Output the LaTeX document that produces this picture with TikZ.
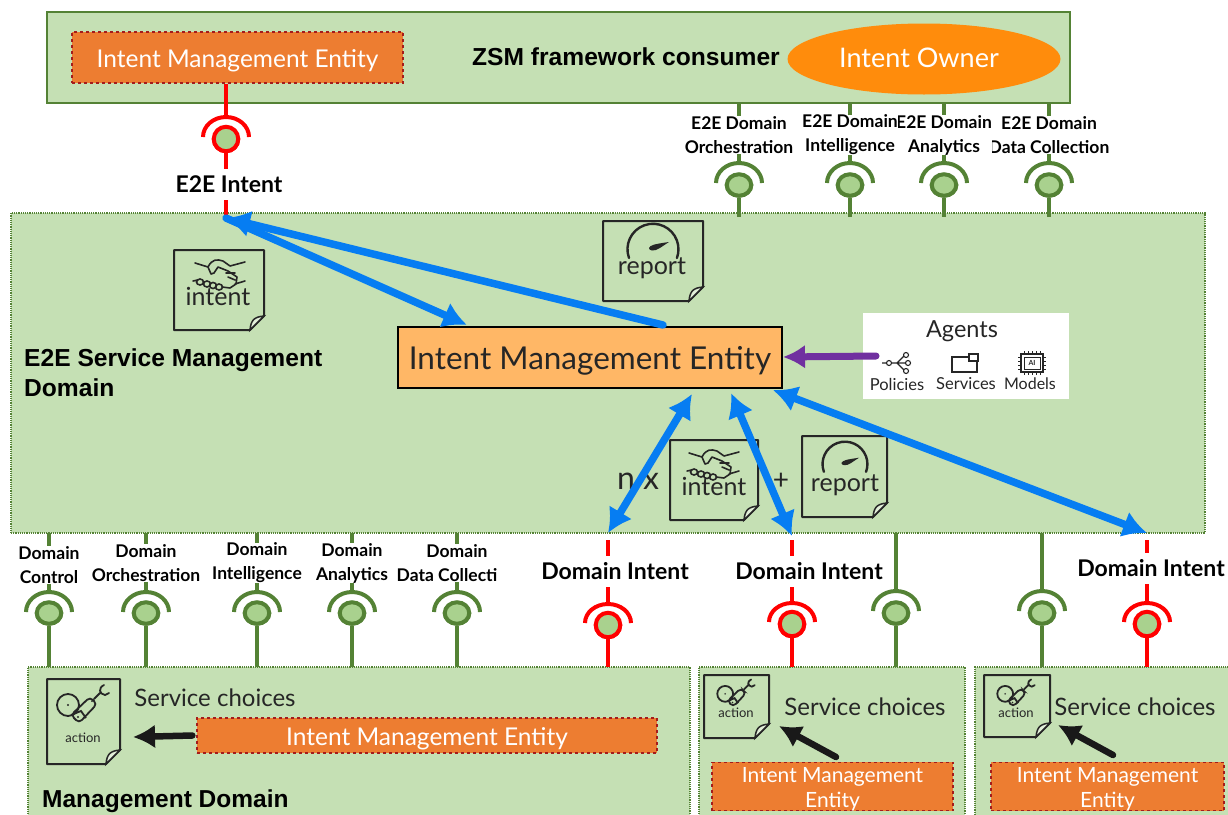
\documentclass[tikz,border=0pt]{standalone}
\usepackage{fontspec}
\setmainfont{Lato}
\newfontfamily\arialfont{Liberation Sans}
\usetikzlibrary{arrows.meta,shapes.geometric}
\definecolor{domaingreen}{HTML}{C5E0B4}
\definecolor{wiregreen}{HTML}{548235}
\definecolor{ballgreen}{HTML}{A9D18E}
\definecolor{imeorange}{HTML}{ED7D31}
\definecolor{imedash}{HTML}{A51C1C}
\definecolor{ownerorange}{HTML}{FF8C0C}
\definecolor{imelight}{HTML}{FFB766}
\definecolor{flowblue}{HTML}{067DF2}
\definecolor{agentpurple}{HTML}{7030A0}
\definecolor{inkgrey}{HTML}{262626}
\newcommand{\fsz}[1]{\fontsize{#1}{#1}\selectfont}
\newcommand{\docnote}[4]{%
	\draw[line width=2pt,draw=inkgrey,line join=round] (#1,#2) -- (#3,#2) -- (#3,#4-14) -- (#3-14,#4) -- (#1,#4) -- cycle;
	\draw[line width=1.5pt,draw=inkgrey,fill=domaingreen!50!white] (#3-14,#4) .. controls (#3-13,#4-10) and (#3-10,#4-13) .. (#3,#4-14) -- cycle;
}
\tikzset{
	outerbox/.style={draw=wiregreen,line width=1.5pt,fill=domaingreen},
	domainbox/.style={draw=wiregreen,densely dotted,line width=1.2pt,fill=domaingreen},
	imebox/.style={draw=imedash,dashed,line width=1.3pt,fill=imeorange,text=white,align=center,inner sep=0pt},
	greenwire/.style={draw=wiregreen,line width=4pt},
	redwire/.style={draw=red,line width=4pt},
	greenball/.style={ellipse,draw=wiregreen,line width=4pt,fill=ballgreen,minimum width=24.5pt,minimum height=21.5pt,inner sep=0pt},
	redball/.style={ellipse,draw=red,line width=4pt,fill=ballgreen,minimum width=24.5pt,minimum height=24.5pt,inner sep=0pt},
	wirelabel/.style={fill=white,inner sep=0pt,align=center,font=\fontsize{17.5}{24}\selectfont\bfseries},
	intentlabel/.style={inner sep=1pt,fill=white,minimum height=31pt,font=\fsz{23}\bfseries},
	blueflow/.style={draw=flowblue,line width=7.5pt,line cap=round,-{Latex[length=24pt,width=27pt]}},
	bluetwoway/.style={draw=flowblue,line width=7.5pt,{Latex[length=24pt,width=27pt]}-{Latex[length=24pt,width=27pt]}},
	blackflow/.style={draw=black!90,line width=6.5pt,line cap=round,-{Latex[length=22pt,width=24pt]}},
	plaintext/.style={inner sep=0pt,text=inkgrey},
	shakeicon/.pic={
		\draw[line width=1.6pt,inkgrey,line cap=round,line join=round]
			(-25,-12) -- (-12,-8) .. controls (-8,-16) and (-3,-16) .. (3,-14) -- (10,-9) -- (25,-13)
			(-12,-8) -- (-9,-1) -- (-6,-2) -- (-2,-8) -- (8,-4) -- (17,2) -- (16,9) -- (10,13) -- (2,12)
			(-27,6) -- (-22,5) (25,6) -- (15,9)
			(6,-2) -- (15,-2) (8,2) -- (15,5);
		\foreach \fx/\fy in {-20/7,-13/9,-7/10.5,-1/12}
			\draw[line width=1.6pt,inkgrey] (\fx,\fy) ellipse (3.5 and 3);
	},
	gaugeicon/.pic={
		\draw[line width=2.4pt,inkgrey,line cap=round] (-24,10) arc (160:380:25.5);
		\fill[inkgrey] (-4,0) .. controls (-3,-3) and (2,-4) .. (16,-6) .. controls (8,-1) and (4,3) .. (-1,2.5) .. controls (-3,2.5) and (-4,1) .. (-4,0) -- cycle;
	},
	armicon/.pic={
		\draw[line width=1.8pt,inkgrey] (-15,-3) circle (11);
		\fill[inkgrey] (-15,-3) circle (1.2);
		\draw[line width=1.8pt,inkgrey,rounded corners=4pt] (-12,7) -- (7,-11) -- (14,-4) -- (-4,15) -- cycle;
		\draw[line width=1.8pt,inkgrey] (-12,7) -- (-2,3) -- (3,10);
		\fill[inkgrey] (-5,9) circle (1.2) (9,-7) circle (1);
		\draw[line width=1.8pt,inkgrey,line cap=round] (11,-9) -- (17,-15) (21,-23) .. controls (15,-20) and (16,-14) .. (22,-13) -- (26,-15);
	}
}
\begin{document}
\begin{tikzpicture}[x=1pt,y=-1pt]
	\useasboundingbox (0,0) rectangle (1228,814);
	\clip (0,0) rectangle (1228,814);

	\node[outerbox,minimum width=1023pt,minimum height=91pt,inner sep=0pt] (consumer) at (558.5,57.5) {};
	\node[domainbox,minimum width=1194pt,minimum height=320pt,inner sep=0pt] (e2edomain) at (608,373) {};
	\node[domainbox,minimum width=662pt,minimum height=180pt,inner sep=0pt] (leftdomain) at (359,757) {};
	\node[domainbox,minimum width=266pt,minimum height=180pt,inner sep=0pt] (middomain) at (832,757) {};
	\node[domainbox,minimum width=270pt,minimum height=180pt,inner sep=0pt] (rightdomain) at (1110,757) {};

	\node[imebox,minimum width=331pt,minimum height=51pt,font=\fsz{24.5},text height=20pt,text depth=0pt] (topime) at (237.5,57.5) {Intent Management Entity};
	\node[inner sep=0pt,font=\fsz{24.6}\arialfont\bfseries] (zsm) at (626,57) {ZSM framework consumer};
	\node[ellipse,fill=ownerorange,minimum width=273pt,minimum height=71pt,inner sep=0pt] (ownershape) at (924,59) {};
	\node[inner sep=0pt,text=white,font=\fsz{27}] (owner) at (919,58) {Intent Owner};

	\node[redball] (e2eball) at (226,139) {};
	\coordinate (e2ejoin) at (226,218);
	\draw[redwire] (topime.south -| e2eball) -- (e2eball);
	\draw[redwire] (e2eball) -- (e2ejoin);
	\draw[redwire,fill=white] (203,137) arc (180:360:23 and 20);
	\node[redball] (e2eball) at (226,139) {};
	\node[intentlabel] (e2elabel) at (229,184) {E2E Intent};

	\foreach \sname/\sx/\stext in {e2ecoll/1049/{E2E Domain\\Data Collection},e2eanal/944/{E2E Domain\\Analytics},e2eint/850/{E2E Domain\\Intelligence},e2eorch/739/{E2E Domain\\Orchestration}}{
		\node[greenball] (\sname) at (\sx,185) {};
		\coordinate (\sname top) at (\sx,103);
		\coordinate (\sname foot) at (\sx,217);
		\draw[greenwire] (\sname top) -- (\sname);
		\draw[greenwire] (\sname) -- (\sname foot);
		\draw[greenwire,fill=white] (\sx-23,183) arc (180:360:23 and 20);
		\node[greenball] (\sname) at (\sx,185) {};
		\node[wirelabel,minimum width=94pt] (\sname label) at (\sx,135) {\stext};
	}

	\foreach \sname/\sx/\ly/\stext in {dcontrol/49/565/{Domain\\Control},dorch/146/563/{Domain\\Orchestration},dint/257/563/{Domain\\Intelligence},danal/352/563/{Domain\\Analytics},dcoll/457/563/{Domain\\Data Collecti\phantom{on}}}{
		\node[greenball] (\sname) at (\sx,613) {};
		\coordinate (\sname top) at (\sx,533);
		\coordinate (\sname foot) at (\sx,667);
		\draw[greenwire] (\sname top) -- (\sname);
		\draw[greenwire] (\sname) -- (\sname foot);
		\draw[greenwire,fill=white] (\sx-23,612) arc (180:360:23 and 20);
		\node[greenball] (\sname) at (\sx,613) {};
		\node[wirelabel] (\sname label) at (\sx,\ly) {\stext};
	}

	\foreach \sname/\sx in {midgreen/896,rightgreen/1042}{
		\node[greenball] (\sname) at (\sx,613) {};
		\coordinate (\sname top) at (\sx,533);
		\coordinate (\sname foot) at (\sx,667);
		\draw[greenwire] (\sname top) -- (\sname);
		\draw[greenwire] (\sname) -- (\sname foot);
		\draw[greenwire,fill=white] (\sx-23,611) arc (180:360:23 and 20);
		\node[greenball] (\sname) at (\sx,613) {};
	}

	\foreach \sname/\sx/\lx/\ly/\cy in {leftred/608/615/571/625,midred/792/809/571/624,rightred/1147/1151/568/624}{
		\node[redball] (\sname) at (\sx,\cy) {};
		\coordinate (\sname top) at (\sx,540);
		\coordinate (\sname foot) at (\sx,667);
		\draw[redwire] (\sname top) -- (\sname);
		\draw[redwire] (\sname) -- (\sname foot);
		\draw[redwire,fill=white] (\sx-23,\cy-2) arc (180:360:23 and 19);
		\node[redball] (\sname) at (\sx,\cy) {};
		\node[intentlabel] (\sname label) at (\lx,\ly) {Domain Intent};
	}

	\node[draw=black,line width=2.5pt,fill=imelight,minimum width=384pt,minimum height=61pt,inner sep=0pt,font=\fsz{31.5},text=inkgrey,text height=23pt,text depth=0pt] (centerime) at (590,357.5) {Intent Management Entity};
	\node[inner sep=0pt,align=left,font=\fontsize{24.6}{30}\arialfont\bfseries,anchor=north west,text=black] (e2ename) at (24,348) {E2E Service Management\\Domain};

	\docnote{174}{250}{264}{330}
	\pic at (220,275) {shakeicon};
	\node[plaintext,font=\fsz{25}] (topintent) at (218,296) {intent};
	\docnote{603}{221}{703}{301}
	\pic at (653,248) {gaugeicon};
	\node[plaintext,font=\fsz{25}] (topreport) at (652,268) {report};
	\docnote{670}{440}{758}{520}
	\pic at (714,465) {shakeicon};
	\node[plaintext,font=\fsz{25}] (lowintent) at (714,486) {intent};
	\docnote{802}{436}{887}{517}
	\pic[scale=0.88] at (845,463) {gaugeicon};
	\node[plaintext,font=\fsz{25}] (lowreport) at (845,485) {report};
	\node[plaintext,font=\fsz{32}] (ntimes) at (638,481) {n x};
	\node[plaintext,font=\fsz{28}] (plussign) at (781,481) {+};

	\node[fill=white,minimum width=206pt,minimum height=86pt,inner sep=0pt] (agentbox) at (966,356) {};
	\node[plaintext,font=\fsz{23.5}] (agents) at (962,331) {Agents};
	\node[plaintext,font=\fsz{16.5}] (policies) at (897,384) {Policies};
	\node[plaintext,font=\fsz{16.5}] (services) at (966,384) {Services};
	\node[plaintext,font=\fsz{16}] (models) at (1030,384) {Models};
	\draw[line width=1.1pt,inkgrey,fill=white] (882,363) -- (905,363) (897,363) -- (904,356) (897,363) -- (904,370);
	\filldraw[line width=1.1pt,draw=inkgrey,fill=white] (889,363) circle (2.5) (906,355) circle (2.5) (908,363) circle (2.5) (906,371) circle (2.5);
	\draw[line width=1.3pt,inkgrey] (952,357) rectangle (977,372);
	\filldraw[line width=1.3pt,draw=inkgrey,fill=white] (969,354) rectangle (978,361);
	\draw[line width=1.3pt,inkgrey] (1021,354) rectangle (1043,372);
	\draw[line width=1pt,inkgrey] (1024,357) rectangle (1040,369);
	\foreach \px in {1024,1028,1032,1036,1040}
		\draw[line width=0.9pt,inkgrey] (\px,351) -- (\px,354) (\px,372) -- (\px,375);
	\foreach \py in {357,361,365,369}
		\draw[line width=0.9pt,inkgrey] (1018,\py) -- (1021,\py) (1043,\py) -- (1046,\py);
	\node[inner sep=0pt,font=\fsz{7}\bfseries,text=inkgrey] (aichip) at (1032,363) {AI};

	\coordinate (imeportin) at (467,325);
	\coordinate (imeportout) at (663,325);
	\coordinate (imeleft) at (692,394);
	\coordinate (imemid) at (731,393);
	\coordinate (imeright) at (773,390);
	\coordinate (leftredport) at (608,533);
	\coordinate (midredport) at (792,536);
	\coordinate (rightredport) at (1147,533);
	\draw[blueflow] (e2ejoin) -- (imeportin);
	\draw[blueflow] (imeportout) -- (e2ejoin);
	\draw[bluetwoway] (imeleft) -- (leftredport);
	\draw[bluetwoway] (imemid) -- (midredport);
	\draw[bluetwoway] (imeright) -- (rightredport);
	\coordinate (agentout) at (876,356);
	\coordinate (imeagentin) at (783,357);
	\draw[draw=agentpurple,line width=7pt,line cap=round,-{Latex[length=22pt,width=24pt]}] (agentout) -- (imeagentin);

	\docnote{47}{679}{120}{764}
	\pic at (83,708) {armicon};
	\node[plaintext,font=\fsz{13}] (leftaction) at (83,738) {action};
	\docnote{704}{675}{769}{738}
	\pic[scale=0.72] at (736,696) {armicon};
	\node[plaintext,font=\fsz{13}] (midaction) at (736,713) {action};
	\docnote{984}{675}{1050}{737}
	\pic[scale=0.72] at (1016,696) {armicon};
	\node[plaintext,font=\fsz{13}] (rightaction) at (1016,713) {action};

	\node[plaintext,font=\fsz{24}] (leftchoices) at (215,698) {Service choices};
	\node[plaintext,font=\fsz{24}] (midchoices) at (865,707) {Service choices};
	\node[plaintext,font=\fsz{24}] (rightchoices) at (1135,707) {Service choices};

	\node[imebox,minimum width=460pt,minimum height=35pt,font=\fsz{24.5},text height=20pt,text depth=0pt] (leftime) at (427,735.5) {Intent Management Entity};
	\node[imebox,minimum width=241pt,minimum height=47pt,font=\fontsize{21}{25}\selectfont] (midime) at (832.5,786.5) {\rule{0pt}{20pt}Intent Management\\Entity};
	\node[imebox,minimum width=233pt,minimum height=47pt,font=\fontsize{21}{25}\selectfont] (rightime) at (1107.5,786.5) {\rule{0pt}{20pt}Intent Management\\Entity};

	\coordinate (leftactionin) at (133,737);
	\coordinate (midactionin) at (779,726);
	\coordinate (midimeout) at (836,757);
	\coordinate (rightactionin) at (1058,725);
	\coordinate (rightimeout) at (1113,755);
	\draw[blackflow] (leftime.west) ++(-4,0) coordinate (leftimeout) -- (leftactionin);
	\draw[blackflow] (midimeout) -- (midactionin);
	\draw[blackflow] (rightimeout) -- (rightactionin);

	\node[inner sep=0pt,font=\fsz{24.5}\arialfont\bfseries,anchor=west,text=black] (mgmtdomain) at (42,801) {Management Domain};
\end{tikzpicture}
\end{document}
